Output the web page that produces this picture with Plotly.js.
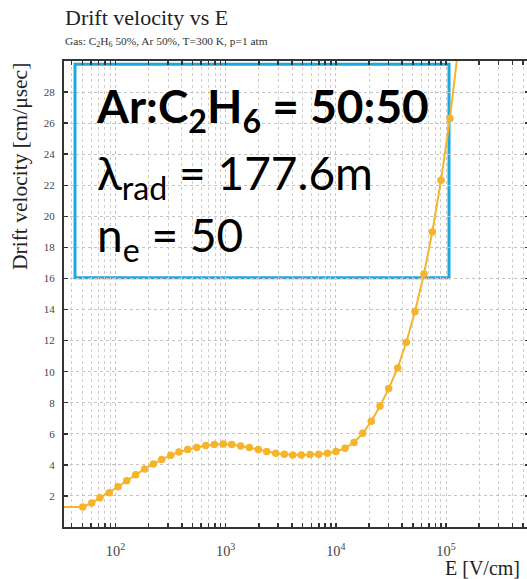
<!DOCTYPE html>
<html>
<head>
<meta charset="utf-8">
<script src="https://cdn.plot.ly/plotly-3.0.1.min.js"></script>
<style>
html,body{margin:0;padding:0;background:#fff;overflow:hidden;width:527px;height:579px;}
#chart{width:540px;height:579px;}
</style>
</head>
<body>
<div id="chart"></div>
<script>
// Electric field E [V/cm]
const E_field = [30, 50.4, 60.8, 72.3, 87.7, 105.4, 126.4, 152.5, 184.1, 220.4, 262.6,
  317, 377, 452, 546, 659, 789, 951, 1135, 1369, 1639, 1978, 2357, 2845, 3406, 4058,
  4859, 5829, 6986, 8364, 10035, 12110, 14620, 17540, 20990, 25170, 30190, 36430,
  43610, 52300, 63100, 75100, 90100, 108700, 130400];
// Drift velocity [cm/usec]
const drift = [1.29, 1.29, 1.55, 1.88, 2.21, 2.59, 2.98, 3.37, 3.74, 4.06, 4.34,
  4.62, 4.83, 4.99, 5.11, 5.24, 5.31, 5.35, 5.31, 5.22, 5.11, 4.99, 4.86, 4.75, 4.68, 4.64,
  4.64, 4.66, 4.68, 4.75, 4.86, 5.07, 5.44, 6.03, 6.81, 7.79, 8.91, 10.24,
  11.89, 13.87, 16.29, 18.99, 22.33, 26.30, 31.1];
const yTicks = [2, 4, 6, 8, 10, 12, 14, 16, 18, 20, 22, 24, 26, 28];

const chartTitle = 'Drift velocity vs E';
const chartSubtitle = 'Gas: C<sub>2</sub>H<sub>6</sub> 50%, Ar 50%, T=300 K, p=1 atm';
const yTitle = 'Drift velocity [cm/μsec]';
const xTitle = 'E [V/cm]';
const boxLines = [
  '<b>Ar:C<sub>2</sub>H<sub>6</sub> = 50:50</b>',
  'λ<sub>rad</sub> = 177.6m',
  'n<sub>e</sub> = 50'
];

const orange = '#F6B42A';
const serif = 'Liberation Serif, Times New Roman, serif';
const sans = 'Lato, Carlito, sans-serif';

const trace = {
  x: E_field, y: drift, type: 'scatter', mode: 'lines+markers',
  line: {color: orange, width: 2},
  marker: {color: orange, size: 7.5},
  cliponaxis: true, hoverinfo: 'skip'
};

const axisCommon = {
  showline: true, linewidth: 2, linecolor: '#333', mirror: 'ticks',
  ticks: 'inside', ticklen: 4, tickwidth: 1.5, tickcolor: '#333',
  showgrid: true, gridcolor: '#c4c4c4', griddash: 'dot', gridwidth: 1,
  zeroline: false, tickfont: {family: serif, size: 11, color: '#444'}
};

const layout = {
  width: 540, height: 579,
  margin: {l: 64, r: 11, t: 61, b: 52, pad: 0},
  paper_bgcolor: '#fff', plot_bgcolor: '#fff',
  showlegend: false,
  xaxis: Object.assign({}, axisCommon, {
    type: 'log', range: [1.5325, 5.7533], dtick: 1, exponentformat: 'power',
    ticklabelstandoff: 10,
    tickfont: {family: serif, size: 11.5, color: '#444'},
    minor: {ticks: 'inside', ticklen: 4, tickcolor: '#333', tickwidth: 1.5,
            showgrid: true, gridcolor: '#cfcfcf', griddash: 'dot', gridwidth: 1, dtick: 'D1'}
  }),
  yaxis: Object.assign({}, axisCommon, {
    range: [0, 30], tickvals: yTicks, ticktext: yTicks.map(String),
    ticklabelstandoff: 5
  }),
  shapes: [{
    type: 'rect', xref: 'paper', yref: 'paper', layer: 'between',
    x0: 0.0237, x1: 0.828, y0: 0.535, y1: 0.993,
    line: {color: '#1BA9E1', width: 3}, fillcolor: 'rgba(0,0,0,0)'
  }],
  annotations: [
    {text: chartTitle, xref: 'paper', yref: 'paper', x: -0.002, y: 1.0944, xanchor: 'left', yanchor: 'middle',
     showarrow: false, font: {family: serif, size: 22, color: '#222'}},
    {text: chartSubtitle, xref: 'paper', yref: 'paper', x: -0.002, y: 1.0408, xanchor: 'left', yanchor: 'middle',
     showarrow: false, font: {family: serif, size: 11.4, color: '#333'}},
    {text: yTitle, xref: 'paper', yref: 'paper', x: -0.0946, y: 0.7725, xanchor: 'center', yanchor: 'middle',
     textangle: -90, showarrow: false, font: {family: serif, size: 21.5, color: '#222'}},
    {text: xTitle, xref: 'paper', yref: 'paper', x: 0.985, y: -0.088, xanchor: 'right', yanchor: 'middle',
     showarrow: false, font: {family: serif, size: 20, color: '#222'}},
    {text: boxLines[0], xref: 'paper', yref: 'paper', x: 0.0645, y: 0.897, xanchor: 'left', yanchor: 'middle',
     showarrow: false, font: {family: sans, size: 46, color: '#000'}},
    {text: boxLines[1], xref: 'paper', yref: 'paper', x: 0.0667, y: 0.753, xanchor: 'left', yanchor: 'middle',
     showarrow: false, font: {family: sans, size: 46, color: '#000'}},
    {text: boxLines[2], xref: 'paper', yref: 'paper', x: 0.0667, y: 0.620, xanchor: 'left', yanchor: 'middle',
     showarrow: false, font: {family: sans, size: 46, color: '#000'}}
  ]
};

Plotly.newPlot('chart', [trace], layout, {staticPlot: true, displayModeBar: false});
</script>
</body>
</html>
